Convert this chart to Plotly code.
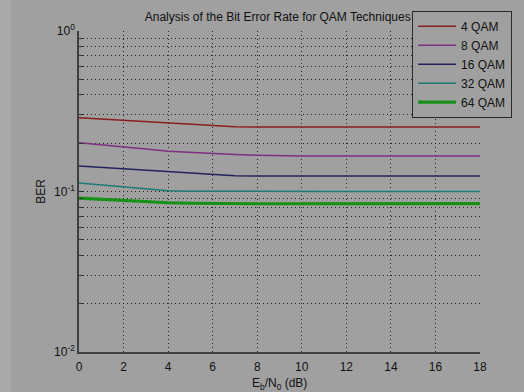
import plotly.graph_objects as go

ebno = list(range(0, 19))

ber_4qam = [0.288, 0.283, 0.2787, 0.2735, 0.2683, 0.2634, 0.2585, 0.2535, 0.2523, 0.2523, 0.2523, 0.2523,
            0.2523, 0.2523, 0.2523, 0.2523, 0.2523, 0.2523, 0.2523]
ber_8qam = [0.2015, 0.196, 0.1904, 0.1843, 0.1782, 0.1752, 0.1722, 0.1702, 0.1683, 0.1667, 0.1667, 0.1667,
            0.1667, 0.1667, 0.1667, 0.1667, 0.1667, 0.1667, 0.1667]
ber_16qam = [0.1444, 0.1417, 0.139, 0.136, 0.1331, 0.1306, 0.1282, 0.1252, 0.125, 0.125, 0.125, 0.125,
             0.125, 0.125, 0.125, 0.125, 0.125, 0.125, 0.125]
ber_32qam = [0.1128, 0.1098, 0.1069, 0.1035, 0.101, 0.1003, 0.1001, 0.1001, 0.1001, 0.1001, 0.1001, 0.1001,
             0.1001, 0.1001, 0.1001, 0.0999, 0.0999, 0.0999, 0.0999]
ber_64qam = [0.0910, 0.0893, 0.0876, 0.0863, 0.0851, 0.0845, 0.0840, 0.0839, 0.0839, 0.0839, 0.0839, 0.0839,
             0.0839, 0.0838, 0.0839, 0.0837, 0.0838, 0.0839, 0.0840]

series_names = ["4 QAM", "8 QAM", "16 QAM", "32 QAM", "64 QAM"]
series_data = [ber_4qam, ber_8qam, ber_16qam, ber_32qam, ber_64qam]
series_colors = ["#8a1e1e", "#7e2f82", "#22225e", "#1c7a78", "#169016"]
series_widths = [1.5, 1.5, 1.5, 1.5, 3.2]

y_tickvals = []
y_ticktext = []
for dec in [0.01, 0.1]:
    for m in range(1, 10):
        y_tickvals.append(m * dec)
        y_ticktext.append({0.01: "10<sup>-2</sup>", 0.1: "10<sup>-1</sup>"}[dec] if m == 1 else "")
y_tickvals.append(1.0)
y_ticktext.append("10<sup>0</sup>")

x_tickvals = list(range(0, 19, 2))

bg = "#a0a0a0"
fig = go.Figure()
for name, data, col, w in zip(series_names, series_data, series_colors, series_widths):
    fig.add_trace(go.Scatter(x=ebno, y=data, mode="lines", name=name,
                             line=dict(color=col, width=w)))

font_family = "Liberation Sans, Arial, sans-serif"
fig.update_layout(
    width=524, height=392,
    margin=dict(l=79, r=44, t=30, b=40),
    paper_bgcolor=bg, plot_bgcolor=bg,
    font=dict(family=font_family, size=12, color="#111111"),
    title=dict(text="Analysis of the Bit Error Rate for QAM Techniques", x=0.53, xanchor="center",
               y=0.958, yanchor="middle", font=dict(size=12, color="#111111")),
    showlegend=True,
    legend=dict(x=1.08, xanchor="right", y=1.06, yanchor="top", bgcolor=bg,
                bordercolor="#2a2a2a", borderwidth=1, font=dict(size=12, color="#111111"),
                tracegroupgap=0, itemwidth=38),
    shapes=[dict(type="rect", xref="paper", yref="paper", x0=-0.2, x1=-0.1696, y0=-0.2, y1=1.2,
                 fillcolor="#aaaaaa", line=dict(width=0), layer="below")],
    annotations=[dict(text="E<sub>b</sub>/N<sub>0</sub> (dB)", xref="paper", yref="paper", x=0.5, y=0,
                      xanchor="center", yanchor="top", yshift=-22, showarrow=False,
                      font=dict(size=12, color="#111111"))],
)
fig.update_xaxes(range=[0, 18], tickvals=x_tickvals, ticks="outside", ticklen=3, tickcolor=bg,
                 automargin=False,
                 showline=True, linecolor="#404040", linewidth=1.5, mirror=False,
                 showgrid=True, gridcolor="#252525", gridwidth=1, griddash="1px,3px", zeroline=False,
                 tickfont=dict(size=12))
fig.update_yaxes(type="log", range=[-2, 0], tickvals=y_tickvals, ticktext=y_ticktext, ticks="inside",
                 ticklen=4, tickcolor="#333333", automargin=False,
                 showline=True, linecolor="#404040", linewidth=1.5, mirror=False,
                 showgrid=True, gridcolor="#252525", gridwidth=1, griddash="1px,3px", zeroline=False,
                 title=dict(text="BER", standoff=6, font=dict(size=12)), tickfont=dict(size=12))

fig.write_html("out.html")
